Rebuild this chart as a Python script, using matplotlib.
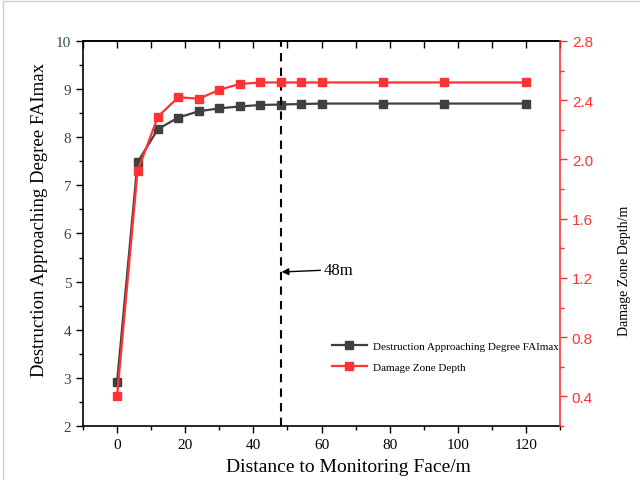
import matplotlib
matplotlib.use("Agg")
import matplotlib.pyplot as plt
from matplotlib.ticker import MultipleLocator
from matplotlib.lines import Line2D

distance = [0, 6, 12, 18, 24, 30, 36, 42, 48, 54, 60, 78, 96, 120]
fai_max = [2.91, 7.48, 8.17, 8.41, 8.54, 8.60, 8.64, 8.67, 8.68, 8.69, 8.70, 8.70, 8.70, 8.70]
damage_depth = [0.40, 1.92, 2.29, 2.42, 2.41, 2.47, 2.51, 2.52, 2.52, 2.52, 2.52, 2.52, 2.52, 2.52]
marker_x = 48
marker_label = "48m"

black_c = "#404040"
red_c = "#ff3333"
serif = ["Liberation Serif", "DejaVu Serif"]

plt.rcParams["font.family"] = serif

fig = plt.figure(figsize=(6.4, 4.81), dpi=100)
ax = fig.add_axes([0.1297, 0.1123, 0.7453, 0.8004])
ax2 = ax.twinx()

ax.plot(distance, fai_max, color=black_c, lw=1.6, marker="s", ms=6, label="Destruction Approaching Degree FAImax", zorder=3)
ax2.plot(distance, damage_depth, color=red_c, lw=1.6, marker="s", ms=6, label="Damage Zone Depth", zorder=3)

ax.axvline(marker_x, color="black", ls=(0, (4, 3)), lw=1.5, zorder=4)
ax.annotate(marker_label, xy=(marker_x + 0.3, 5.2), xytext=(60.5, 5.25),
            fontsize=12, va="center", ha="left",
            arrowprops=dict(arrowstyle="-|>", color="black", lw=1.0, mutation_scale=10, shrinkA=0, shrinkB=0))

ax.set_xlim(-10, 130)
ax.set_ylim(2, 10)
ax2.set_ylim(0.2, 2.8)

ax.xaxis.set_major_locator(MultipleLocator(20))
ax.xaxis.set_minor_locator(MultipleLocator(10))
ax.yaxis.set_major_locator(MultipleLocator(1))
ax.yaxis.set_minor_locator(MultipleLocator(0.5))
ax2.yaxis.set_major_locator(MultipleLocator(0.4))
ax2.yaxis.set_minor_locator(MultipleLocator(0.2))

ax.tick_params(axis="x", which="major", direction="out", length=5, width=1, labelsize=11)
ax.tick_params(axis="x", which="minor", direction="out", length=3, width=1)
ax.tick_params(axis="y", which="major", direction="out", length=5, width=1, labelsize=11, labelcolor="#2f4858")
ax.tick_params(axis="y", which="minor", direction="out", length=3, width=1)

ax2.tick_params(axis="y", which="major", direction="out", length=5, width=1, colors=red_c, labelsize=11)
ax2.tick_params(axis="y", which="minor", direction="out", length=3, width=1, colors=red_c)
for lab in ax2.get_yticklabels():
    lab.set_family(["Liberation Sans", "DejaVu Sans"])
ax2.spines["right"].set_color(red_c)
ax2.spines["right"].set_linewidth(1.2)
ax2.spines["left"].set_visible(False)
ax2.spines["top"].set_visible(False)
ax2.spines["bottom"].set_visible(False)
for s in ["left", "bottom", "top"]:
    ax.spines[s].set_linewidth(1.2)
ax.spines["right"].set_visible(False)

# top ticks inward
ax_top = ax.secondary_xaxis("top")
ax_top.xaxis.set_major_locator(MultipleLocator(10))
ax_top.tick_params(direction="in", length=5, width=1, labeltop=False)
ax_top.spines["top"].set_linewidth(1.2)
ax.tick_params(axis="x", which="both", top=False)

ax.set_xlabel("Distance to Monitoring Face/m", fontsize=14)
ax.xaxis.set_label_coords(0.556, -0.083)
ax.set_ylabel("Destruction Approaching Degree FAImax", fontsize=13.5)
ax.yaxis.set_label_coords(-0.074, 0.538)
ax2.set_ylabel("Damage Zone Depth/m", fontsize=10)
ax2.yaxis.set_label_coords(1.122, 0.405)

handles = [Line2D([], [], color=black_c, lw=1.6, marker="s", ms=6),
           Line2D([], [], color=red_c, lw=1.6, marker="s", ms=6)]
labels = ["Destruction Approaching Degree FAImax", "Damage Zone Depth"]
ax.legend(handles, labels, loc="center left", bbox_to_anchor=(0.5, 0.18), frameon=False,
          fontsize=8, handlelength=3.2, handletextpad=0.5, labelspacing=1.0)

fig.add_artist(Line2D([3 / 640, 3 / 640], [0, 1 - 2 / 481], transform=fig.transFigure, color="#cccccc", lw=1))
fig.add_artist(Line2D([3 / 640, 1], [1 - 2 / 481, 1 - 2 / 481], transform=fig.transFigure, color="#cccccc", lw=1))

fig.savefig("out.png", dpi=100)
